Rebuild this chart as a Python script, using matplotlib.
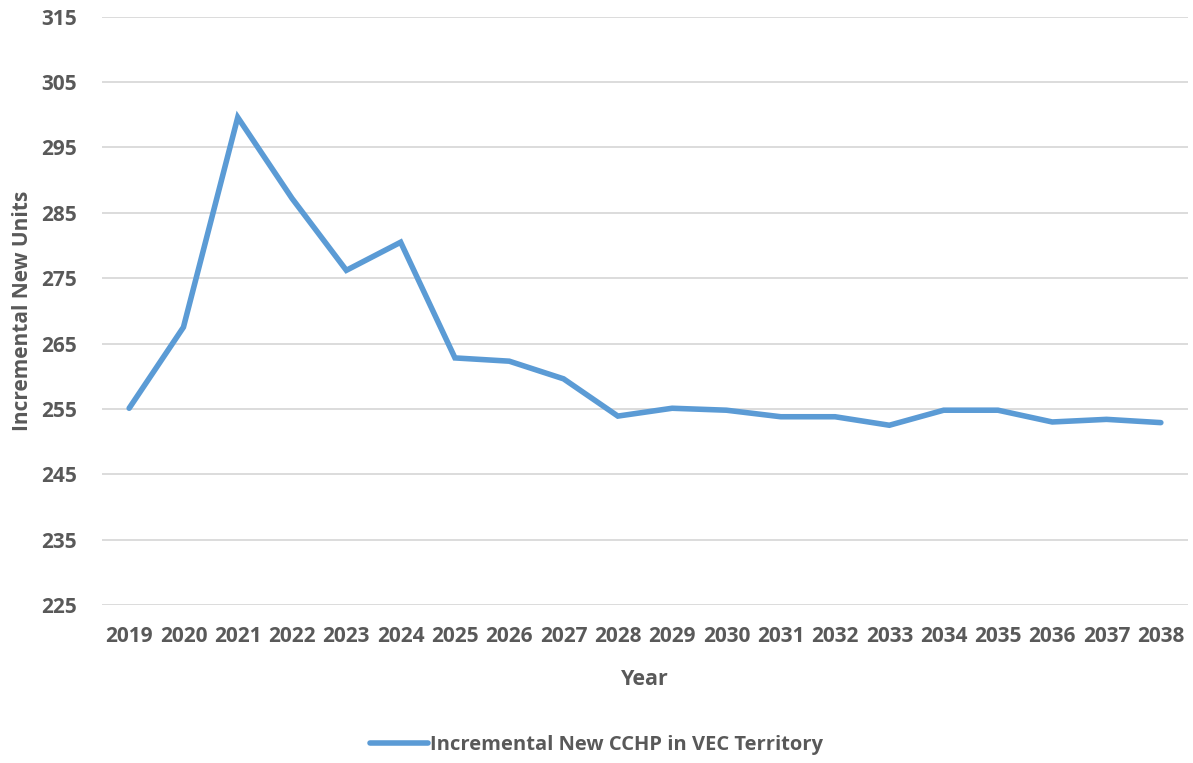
import matplotlib
matplotlib.use("Agg")
import matplotlib.pyplot as plt

years = [str(y) for y in range(2019, 2039)]
units = [255.1, 267.5, 299.6, 287.2, 276.2, 280.5, 262.8, 262.3, 259.6, 253.9,
         255.1, 254.8, 253.8, 253.8, 252.5, 254.8, 254.8, 253.0, 253.4, 252.9]
y_ticks = [225, 235, 245, 255, 265, 275, 285, 295, 305, 315]
series_name = "Incremental New CCHP in VEC Territory"

TXT = "#595959"
BLUE = "#5B9BD5"
plt.rcParams["font.family"] = ["Open Sans", "DejaVu Sans"]
plt.rcParams["font.weight"] = "bold"

W, H = 1193, 763
fig = plt.figure(figsize=(W / 100, H / 100), dpi=100)
ax = fig.add_axes([102 / W, 1 - 605 / H, (1188 - 102) / W, (605 - 16.7) / H])

x = list(range(len(years)))
ax.plot(x, units, color=BLUE, lw=4.0, solid_capstyle="round",
        solid_joinstyle="miter", label=series_name)

ax.set_xlim(-0.5, len(years) - 0.5)
ax.set_ylim(y_ticks[0], y_ticks[-1])
ax.set_yticks(y_ticks)
ax.set_xticks(x)
ax.set_xticklabels(years)
ax.grid(axis="y", color="#d9d9d9", lw=1.3)
ax.set_axisbelow(True)
for s in ax.spines.values():
    s.set_visible(False)
ax.tick_params(length=0, colors=TXT, labelsize=15, pad=15)
ax.tick_params(axis="y", pad=18)
for lab in ax.get_xticklabels() + ax.get_yticklabels():
    lab.set_fontweight("bold")

ax.set_xlabel("Year", color=TXT, fontsize=15.5, fontweight="bold", labelpad=16)
ax.set_ylabel("Incremental New Units", color=TXT, fontsize=15,
              fontweight="bold", labelpad=6)

leg = fig.legend(loc="center", bbox_to_anchor=(0.5, 1 - 745 / H), frameon=False,
                 handlelength=2.9, handletextpad=0.1,
                 prop={"size": 14.5, "weight": "bold"})
for t in leg.get_texts():
    t.set_color(TXT)

fig.savefig("out.png", dpi=100)
